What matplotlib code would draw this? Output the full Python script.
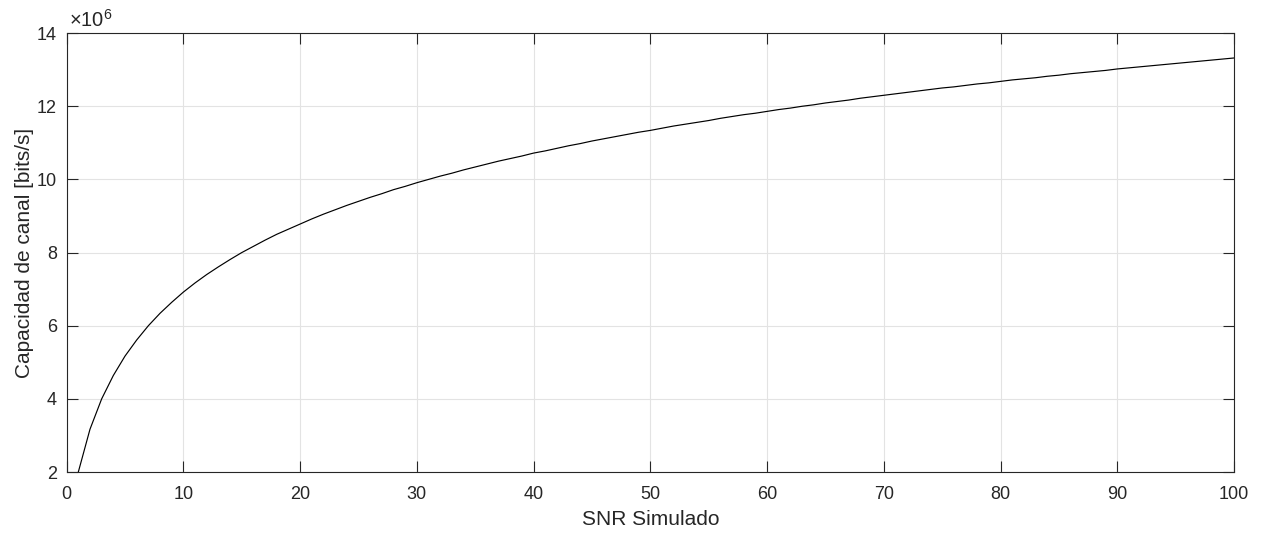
import numpy as np
import matplotlib
matplotlib.use("Agg")
import matplotlib.pyplot as plt

# Capacidad del canal (en millones de bits/s) frente a la SNR simulada
snr = list(range(1, 101))
capacidad = [
    2.00, 3.17, 4.00, 4.64, 5.17, 5.61, 6.00, 6.34, 6.64, 6.92,
    7.17, 7.40, 7.61, 7.81, 8.00, 8.17, 8.34, 8.50, 8.64, 8.78,
    8.92, 9.05, 9.17, 9.29, 9.40, 9.51, 9.61, 9.72, 9.81, 9.91,
    10.00, 10.09, 10.17, 10.26, 10.34, 10.42, 10.50, 10.57, 10.64, 10.72,
    10.78, 10.85, 10.92, 10.98, 11.05, 11.11, 11.17, 11.23, 11.29, 11.34,
    11.40, 11.46, 11.51, 11.56, 11.61, 11.67, 11.72, 11.77, 11.81, 11.86,
    11.91, 11.95, 12.00, 12.04, 12.09, 12.13, 12.17, 12.22, 12.26, 12.30,
    12.34, 12.38, 12.42, 12.46, 12.50, 12.53, 12.57, 12.61, 12.64, 12.68,
    12.72, 12.75, 12.78, 12.82, 12.85, 12.89, 12.92, 12.95, 12.98, 13.02,
    13.05, 13.08, 13.11, 13.14, 13.17, 13.20, 13.23, 13.26, 13.29, 13.32,
]
xticks = [0, 10, 20, 30, 40, 50, 60, 70, 80, 90, 100]
yticks = [2, 4, 6, 8, 10, 12, 14]

plt.rcParams["font.family"] = ["Liberation Sans", "DejaVu Sans"]
plt.rcParams["mathtext.fontset"] = "custom"
plt.rcParams["mathtext.rm"] = "Liberation Sans"
plt.rcParams["mathtext.it"] = "Liberation Sans"

txt = "#262626"
fig = plt.figure(figsize=(12.62, 5.34), dpi=100)
ax = fig.add_axes([0.0528, 0.116, 0.925, 0.822])

ax.plot(snr, capacidad, color="black", lw=0.85)

ax.set_xlim(0, 100)
ax.set_ylim(2, 14)
ax.set_xticks(xticks)
ax.set_yticks(yticks)
ax.grid(True, color="#e3e3e3", lw=0.8)
ax.set_axisbelow(True)
ax.tick_params(direction="in", length=8, width=0.8, top=True, right=True,
               labelsize=13, colors=txt)
ax.tick_params(axis="x", pad=10)
ax.tick_params(axis="y", pad=7)
for s in ax.spines.values():
    s.set_color(txt)
    s.set_linewidth(0.8)

ax.set_xlabel("SNR Simulado", fontsize=15, color=txt, labelpad=5)
ax.set_ylabel("Capacidad de canal [bits/s]", fontsize=15, color=txt, labelpad=2)
ax.text(0.002, 1.006, "\u00d7" + r"$10^{6}$", transform=ax.transAxes,
        ha="left", va="bottom", fontsize=14.5, color=txt)

fig.savefig("out.png", dpi=100)
